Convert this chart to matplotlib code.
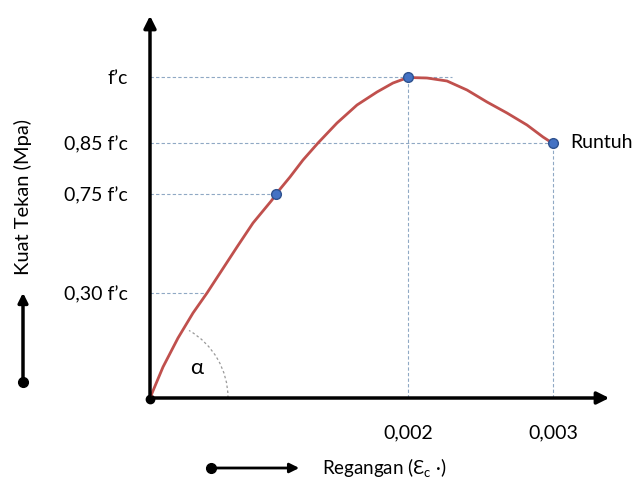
import numpy as np
import matplotlib
matplotlib.use('Agg')
import matplotlib.pyplot as plt
from matplotlib.patches import Arc, FancyArrowPatch
from matplotlib.lines import Line2D

plt.rcParams['font.family'] = ['Lato', 'DejaVu Sans']
plt.rcParams['mathtext.fontset'] = 'custom'
plt.rcParams['mathtext.rm'] = 'Lato'

# schematic stress-strain curve (diagram units, not to scale)
curve_x = [0, 13, 28, 43, 57, 72, 87, 103, 122, 126, 140, 153, 168, 187, 207, 227, 243,
           258, 277, 297, 317, 337, 357, 377, 393, 403]
curve_y = [0, 31, 60, 85, 105, 128, 151, 175, 198, 204, 221, 238, 255, 275, 293, 306, 315,
           320.5, 320, 317, 308, 296, 285, 273, 261, 254.5]

# marked points: 0,75 f'c, peak, collapse
point_x = [126, 258, 403]
point_y = [204, 321, 255]

stress_ticks = [105, 204, 255, 321]
stress_labels = ['0,30 f’c', '0,75 f’c', '0,85 f’c', 'f’c']
stress_line_end = [55, 126, 403, 302]

strain_ticks = [258, 403]
strain_labels = ['0,002', '0,003']
strain_line_top = [321, 255]

fig = plt.figure(figsize=(6.37, 4.8), dpi=100)
ax = fig.add_axes([150 / 637, 82 / 480, 460 / 637, 383 / 480])
ax.set_xlim(0, 460)
ax.set_ylim(0, 383)
for s in ax.spines.values():
    s.set_visible(False)

# guide lines
dash_col = '#8fa8c4'
for yv, xe in zip(stress_ticks, stress_line_end):
    ax.plot([0, xe], [yv, yv], ls=(0, (3, 2)), color=dash_col, lw=0.8)
for xv, yt in zip(strain_ticks, strain_line_top):
    ax.plot([xv, xv], [0, yt], ls=(0, (3, 2)), color=dash_col, lw=0.8)

# alpha arc
ax.add_patch(Arc((0, 0), 156, 156, theta1=0, theta2=60, ls=(0, (2, 2)),
                 color='#999999', lw=0.9))
ax.text(47, 30, 'α', fontsize=16, ha='center', va='center')

# curve
ax.plot(curve_x, curve_y, color='#c0504d', lw=2, solid_joinstyle='round',
        solid_capstyle='round', zorder=3)
ax.plot(point_x, point_y, 'o', ms=7, mfc='#4472c4', mec='#2f528f', mew=1, zorder=4)
ax.text(420, 255, 'Runtuh', fontsize=14, va='center')

# axes with arrows
ax.annotate('', xy=(462, 0), xytext=(-2, 0), annotation_clip=False,
            arrowprops=dict(arrowstyle='-|>', lw=2.5, color='black', mutation_scale=18))
ax.annotate('', xy=(0, 385), xytext=(0, -2), annotation_clip=False,
            arrowprops=dict(arrowstyle='-|>', lw=2.5, color='black', mutation_scale=18))
ax.plot([0], [-1], 'o', ms=6, color='black', clip_on=False)

ax.set_yticks(stress_ticks)
ax.set_yticklabels(stress_labels, fontsize=14)
ax.set_xticks(strain_ticks)
ax.set_xticklabels(strain_labels, fontsize=14)
ax.tick_params(axis='y', length=0, pad=16)
ax.tick_params(axis='x', length=0, pad=19)

# axis titles with their little arrows
fig.text(23 / 637, 1 - 197 / 480, 'Kuat Tekan (Mpa)', rotation=90, fontsize=14.5,
         ha='center', va='center')
fig.text(322 / 637, 1 - 468 / 480, r'Regangan (Ɛ$_\mathregular{c}$ ·)', fontsize=13.5,
         ha='left', va='center')
fig.patches.append(FancyArrowPatch(
    (23 / 637, 1 - 382 / 480), (23 / 637, 1 - 290 / 480), transform=fig.transFigure,
    arrowstyle='-|>', mutation_scale=14, lw=2.5, color='black'))
fig.patches.append(FancyArrowPatch(
    (211 / 637, 1 - 468 / 480), (302 / 637, 1 - 468 / 480), transform=fig.transFigure,
    arrowstyle='-|>', mutation_scale=14, lw=2, color='black'))
fig.add_artist(Line2D([23 / 637], [1 - 382 / 480], marker='o', ms=7,
                      color='black', transform=fig.transFigure))
fig.add_artist(Line2D([211 / 637], [1 - 468 / 480], marker='o', ms=7,
                      color='black', transform=fig.transFigure))

fig.savefig('out.png', dpi=100)
